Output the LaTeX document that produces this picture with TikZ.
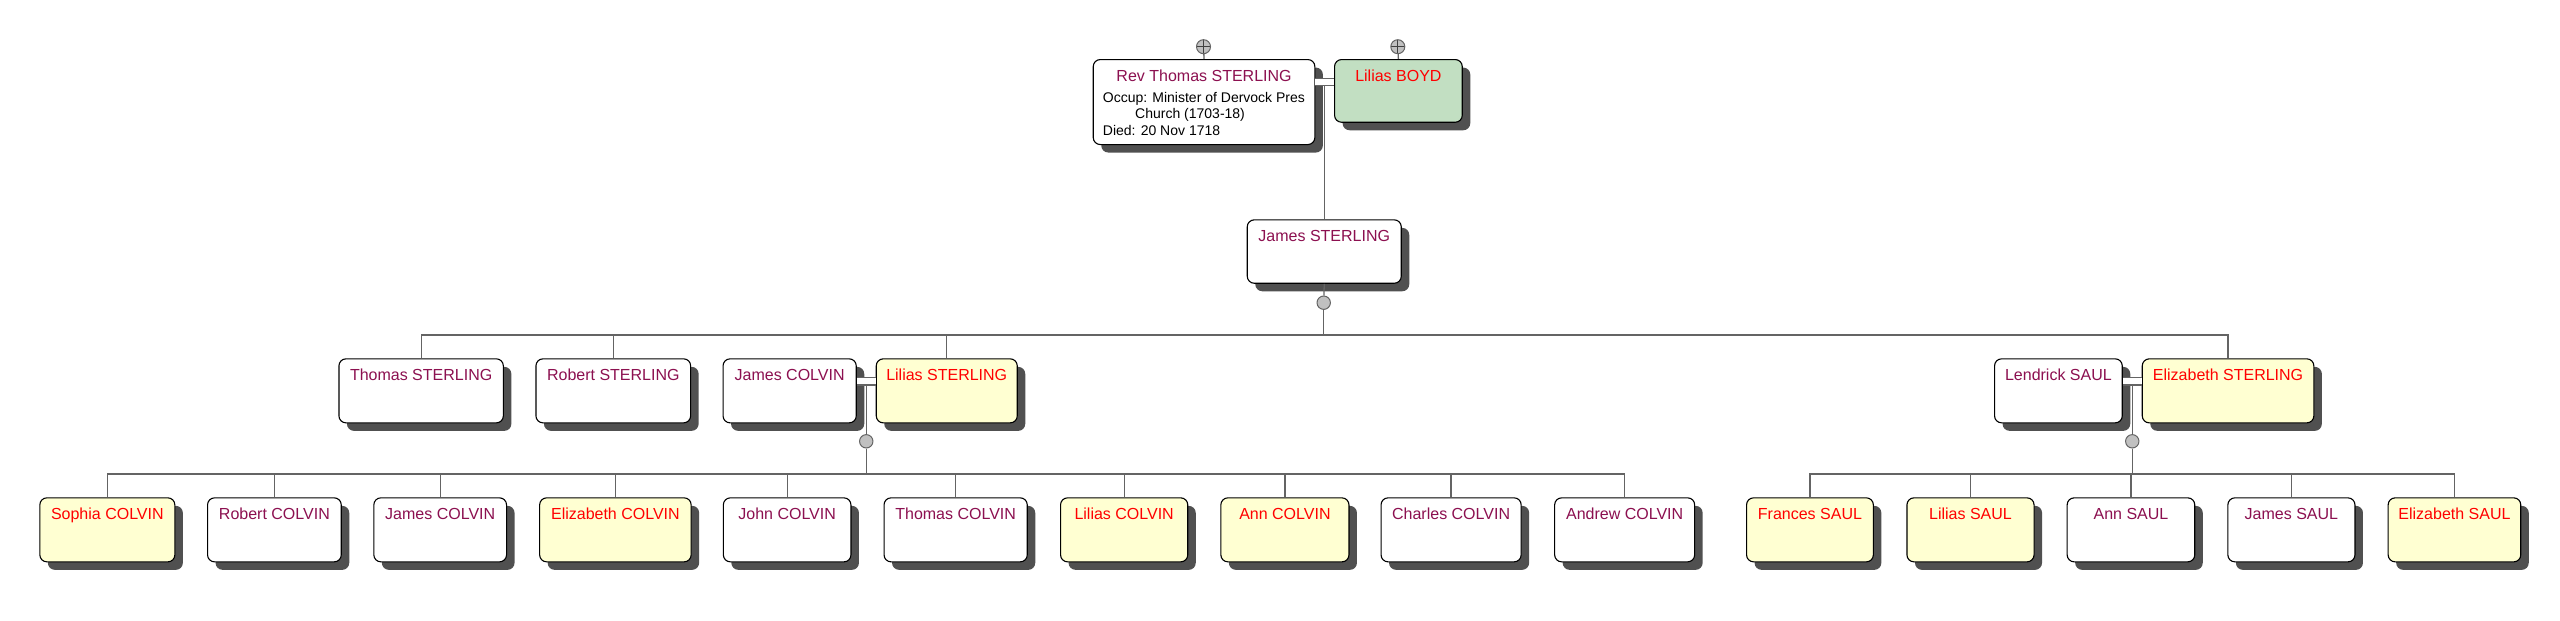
\documentclass[tikz,border=0pt]{standalone}
\usepackage{fontspec}
\setmainfont{Liberation Sans}
\usetikzlibrary{shadows,calc}
\definecolor{malec}{RGB}{140,16,80}
\definecolor{femc}{RGB}{255,0,0}
\definecolor{femfill}{RGB}{255,255,210}
\definecolor{boydfill}{RGB}{194,223,194}
\definecolor{shadowc}{RGB}{80,80,80}
\definecolor{linec}{RGB}{100,100,100}
\definecolor{unionfill}{RGB}{192,192,192}
\begin{document}
\begin{tikzpicture}[x=1pt,y=-1pt,
  person/.style={draw=black, line width=1.1pt, rounded corners=7pt, anchor=north west,
    inner xsep=0pt, inner ysep=0pt, text height=21.5pt, text depth=42.5pt,
    font=\fontsize{16}{19}\selectfont,
    drop shadow={shadow xshift=8pt, shadow yshift=-8pt, fill=shadowc, opacity=1}},
  male/.style={person, fill=white, text=malec},
  female/.style={person, fill=femfill, text=femc},
  boydbox/.style={person, fill=boydfill, text=femc},
  conn/.style={draw=linec, line width=1.3pt},
  marriage/.style={draw=linec, line width=1.3pt, double=white, double distance=6pt},
  union/.style={circle, draw=linec, fill=unionfill, line width=1pt, minimum size=13.4pt, inner sep=0pt},
  pluscirc/.style={circle, draw=linec, fill=unionfill, line width=1pt, minimum size=14pt, inner sep=0pt,
    path picture={\draw[black!75, line width=1pt]
      (path picture bounding box.north) -- (path picture bounding box.south)
      (path picture bounding box.west) -- (path picture bounding box.east);}},
  detail/.style={inner sep=0pt, anchor=base west, text=black, font=\fontsize{14}{16.5}\selectfont}
]
\fill[white] (0,0) rectangle (2560,621);
\useasboundingbox (0,0) rectangle (2560,621);

% ---- generation 1
\node[male, minimum width=221.6pt, text depth=63.5pt] (rev) at (1092.7,59) {Rev Thomas STERLING};
\node[detail] (revinfo) at (1102.7,102.3) {\parbox[t]{215pt}{\raggedright Occup: Minister of Dervock Pres\\\hspace*{32.3pt}Church (1703-18)\\Died: 20 Nov 1718}};
\node[boydbox, minimum width=127.7pt, text depth=41.2pt] (boyd) at (1334,59) {Lilias BOYD};

% ---- generation 2
\node[male, minimum width=154pt, text depth=41.9pt] (js) at (1246.7,219.3) {James STERLING};

% ---- generation 3
\node[male, minimum width=164.4pt] (ts) at (338.4,358.3) {Thomas STERLING};
\node[male, minimum width=154.7pt] (rs) at (535.4,358.3) {Robert STERLING};
\node[male, minimum width=133.2pt] (jc) at (722.5,358.3) {James COLVIN};
\node[female, minimum width=141pt] (ls) at (875.7,358.3) {Lilias STERLING};
\node[male, minimum width=127.7pt] (lsaul) at (1994,358.3) {Lendrick SAUL};
\node[female, minimum width=171.6pt] (es) at (2141.7,358.3) {Elizabeth STERLING};

% ---- generation 4
\node[female, minimum width=135pt] (sc) at (39.3,497.3) {Sophia COLVIN};
\node[male, minimum width=133.7pt] (rc) at (207,497.3) {Robert COLVIN};
\node[male, minimum width=132.7pt] (jcc) at (373.3,497.3) {James COLVIN};
\node[female, minimum width=151.5pt] (ec) at (539.1,497.3) {Elizabeth COLVIN};
\node[male, minimum width=127.6pt] (joc) at (722.8,497.3) {John COLVIN};
\node[male, minimum width=143.2pt] (tc) at (883.5,497.3) {Thomas COLVIN};
\node[female, minimum width=127.2pt] (lc) at (1060,497.3) {Lilias COLVIN};
\node[female, minimum width=128.1pt] (ac) at (1220.3,497.3) {Ann COLVIN};
\node[male, minimum width=140.1pt] (cc) at (1380.5,497.3) {Charles COLVIN};
\node[male, minimum width=140pt] (anc) at (1554.1,497.3) {Andrew COLVIN};
\node[female, minimum width=126.8pt] (fs) at (1746,497.3) {Frances SAUL};
\node[female, minimum width=127.1pt] (lsa) at (1906.4,497.3) {Lilias SAUL};
\node[male, minimum width=127.6pt] (as) at (2066.6,497.3) {Ann SAUL};
\node[male, minimum width=127.1pt] (jsa) at (2227.3,497.3) {James SAUL};
\node[female, minimum width=132.6pt] (esa) at (2387.6,497.3) {Elizabeth SAUL};

% ---- connectors generation 1
\node[pluscirc] (pr) at (1203.5,46.7) {};
\node[pluscirc] (pb) at (1397.8,46.7) {};
\draw[conn] (pr) -- (rev.north);
\draw[conn] (pb) -- (boyd.north);
\draw[marriage] ($(rev.north east)+(0,23)$) -- ($(boyd.north west)+(0,23)$);
\coordinate (m1) at ($(rev.north east)!.5!(boyd.north west)+(0,26.6)$);
\draw[conn] (m1) -- (m1 |- js.north);

% ---- connectors generation 2
\node[union] (u1) at (1323.7,302.7) {};
\coordinate (b1) at (1323.7,335);
\draw[conn] (js.south) -- (u1);
\draw[conn] (u1) -- (b1);
\draw[conn] (ts.north) |- (b1) -| (es.north);
\draw[conn] (rs.north) -- (rs.north |- b1);
\draw[conn] (ls.north) -- (ls.north |- b1);

% ---- connectors generation 3: COLVIN
\draw[marriage] ($(jc.north east)+(0,23)$) -- ($(ls.north west)+(0,23)$);
\coordinate (m2) at ($(jc.north east)!.5!(ls.north west)+(0,26.6)$);
\node[union] (u2) at ($(m2)+(0,56.4)$) {};
\coordinate (b2) at ($(m2)+(0,89)$);
\draw[conn] (m2) -- (u2);
\draw[conn] (u2) -- (b2);
\draw[conn] (sc.north) |- (b2) -| (anc.north);
\foreach \n in {rc,jcc,ec,joc,tc,lc,ac,cc}{
  \draw[conn] (\n.north) -- (\n.north |- b2);
}

% ---- connectors generation 3: SAUL
\draw[marriage] ($(lsaul.north east)+(0,23)$) -- ($(es.north west)+(0,23)$);
\coordinate (m3) at ($(lsaul.north east)!.5!(es.north west)+(0,26.6)$);
\node[union] (u3) at ($(m3)+(0,56.4)$) {};
\coordinate (b3) at ($(m3)+(0,89)$);
\draw[conn] (m3) -- (u3);
\draw[conn] (u3) -- (b3);
\draw[conn] (fs.north) |- (b3) -| (esa.north);
\foreach \n in {lsa,as,jsa}{
  \draw[conn] (\n.north) -- (\n.north |- b3);
}
\end{tikzpicture}
\end{document}
